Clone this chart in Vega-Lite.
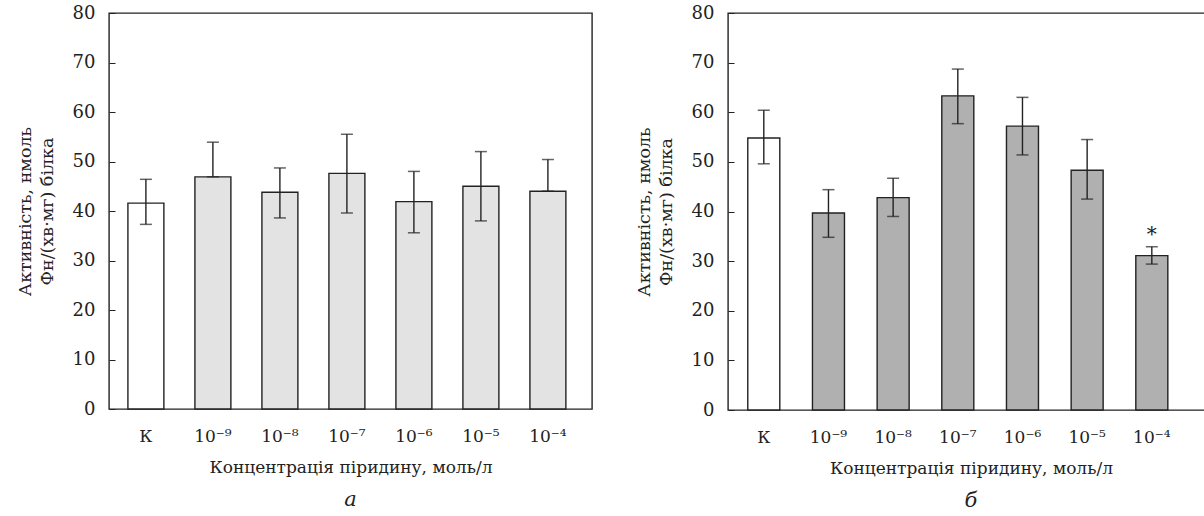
{
  "$schema": "https://vega.github.io/schema/vega-lite/v6.json",
  "background": "white",
  "padding": {"left": 15, "top": 3, "right": 0, "bottom": 0},
  "spacing": 41,
  "datasets": {
    "a": [
      {"conc": "К", "mean": 41.6, "lo": 37.3, "hi": 46.4, "note": ""},
      {"conc": "10⁻⁹", "mean": 46.9, "lo": 46.9, "hi": 53.9, "note": ""},
      {"conc": "10⁻⁸", "mean": 43.8, "lo": 38.6, "hi": 48.7, "note": ""},
      {"conc": "10⁻⁷", "mean": 47.6, "lo": 39.6, "hi": 55.5, "note": ""},
      {"conc": "10⁻⁶", "mean": 41.9, "lo": 35.6, "hi": 48.0, "note": ""},
      {"conc": "10⁻⁵", "mean": 45.0, "lo": 38.0, "hi": 52.0, "note": ""},
      {"conc": "10⁻⁴", "mean": 44.0, "lo": 44.0, "hi": 50.4, "note": ""}
    ],
    "b": [
      {"conc": "К", "mean": 54.8, "lo": 49.6, "hi": 60.4, "note": ""},
      {"conc": "10⁻⁹", "mean": 39.7, "lo": 34.8, "hi": 44.4, "note": ""},
      {"conc": "10⁻⁸", "mean": 42.8, "lo": 39.0, "hi": 46.7, "note": ""},
      {"conc": "10⁻⁷", "mean": 63.3, "lo": 57.7, "hi": 68.7, "note": ""},
      {"conc": "10⁻⁶", "mean": 57.2, "lo": 51.4, "hi": 63.0, "note": ""},
      {"conc": "10⁻⁵", "mean": 48.3, "lo": 42.5, "hi": 54.5, "note": ""},
      {"conc": "10⁻⁴", "mean": 31.1, "lo": 29.4, "hi": 32.9, "note": "*"}
    ]
  },
  "config": {
    "font": "DejaVu Serif",
    "view": {"stroke": "#222", "strokeWidth": 1.4},
    "axis": {
      "domain": false,
      "grid": false,
      "labelFont": "DejaVu Serif",
      "titleFont": "DejaVu Serif",
      "labelColor": "#222",
      "titleColor": "#222",
      "titleFontWeight": "normal",
      "tickColor": "#222"
    },
    "text": {"font": "DejaVu Serif"},
    "title": {"font": "DejaVu Serif", "fontStyle": "italic", "fontWeight": "normal", "fontSize": 21, "color": "#222", "orient": "bottom", "offset": 14}
  },
  "hconcat": [
    {
      "width": 483,
      "height": 396,
      "title": {"text": "а"},
      "data": {"name": "a"},
      "encoding": {
        "x": {
          "field": "conc", "type": "nominal",
          "sort": ["К", "10⁻⁹", "10⁻⁸", "10⁻⁷", "10⁻⁶", "10⁻⁵", "10⁻⁴"],
          "scale": {"paddingInner": 0.463, "paddingOuter": 0.336, "align": 0.42},
          "axis": {"title": "Концентрація піридину, моль/л", "labelAngle": 0, "ticks": false, "labelPadding": 19, "labelFontSize": 17, "titleFontSize": 17, "titlePadding": 15}
        }
      },
      "layer": [
        {
          "mark": {"type": "bar", "stroke": "#222", "strokeWidth": 1.4},
          "encoding": {
            "y": {"field": "mean", "type": "quantitative", "scale": {"domain": [0, 80]},
              "axis": {"values": [0, 10, 20, 30, 40, 50, 60, 70, 80], "tickSize": -6, "labelPadding": 20, "labelFontSize": 18, "titleFontSize": 17.5, "titlePadding": 16, "titleLineHeight": 22,
                "title": ["Активність, нмоль", "Фн/(хв·мг) білка"]}},
            "fill": {"condition": {"test": "datum.conc === 'К'", "value": "white"}, "value": "#e3e3e3"}
          }
        },
        {
          "mark": {"type": "rule", "color": "#222", "strokeWidth": 1.4},
          "encoding": {"y": {"field": "lo", "type": "quantitative"}, "y2": {"field": "hi"}}
        },
        {
          "mark": {"type": "tick", "color": "#222", "size": 12, "thickness": 1.5},
          "encoding": {"y": {"field": "hi", "type": "quantitative"}}
        },
        {
          "mark": {"type": "tick", "color": "#222", "size": 12, "thickness": 1.5},
          "encoding": {"y": {"field": "lo", "type": "quantitative"}}
        }
      ]
    },
    {
      "width": 486,
      "height": 397,
      "title": {"text": "б"},
      "data": {"name": "b"},
      "encoding": {
        "x": {
          "field": "conc", "type": "nominal",
          "sort": ["К", "10⁻⁹", "10⁻⁸", "10⁻⁷", "10⁻⁶", "10⁻⁵", "10⁻⁴"],
          "scale": {"paddingInner": 0.505, "paddingOuter": 0.51, "align": 0.3},
          "axis": {"title": "Концентрація піридину, моль/л", "labelAngle": 0, "ticks": false, "labelPadding": 19, "labelFontSize": 17, "titleFontSize": 17, "titlePadding": 15}
        }
      },
      "layer": [
        {
          "mark": {"type": "bar", "stroke": "#222", "strokeWidth": 1.4},
          "encoding": {
            "y": {"field": "mean", "type": "quantitative", "scale": {"domain": [0, 80]},
              "axis": {"values": [0, 10, 20, 30, 40, 50, 60, 70, 80], "tickSize": -6, "labelPadding": 20, "labelFontSize": 18, "titleFontSize": 17.5, "titlePadding": 16, "titleLineHeight": 22,
                "title": ["Активність, нмоль", "Фн/(хв·мг) білка"]}},
            "fill": {"condition": {"test": "datum.conc === 'К'", "value": "white"}, "value": "#b0b0b0"}
          }
        },
        {
          "mark": {"type": "rule", "color": "#222", "strokeWidth": 1.4},
          "encoding": {"y": {"field": "lo", "type": "quantitative"}, "y2": {"field": "hi"}}
        },
        {
          "mark": {"type": "tick", "color": "#222", "size": 12, "thickness": 1.5},
          "encoding": {"y": {"field": "hi", "type": "quantitative"}}
        },
        {
          "mark": {"type": "tick", "color": "#222", "size": 12, "thickness": 1.5},
          "encoding": {"y": {"field": "lo", "type": "quantitative"}}
        },
        {
          "mark": {"type": "text", "fontSize": 20, "dy": -2, "color": "#222", "baseline": "bottom"},
          "encoding": {"y": {"field": "hi", "type": "quantitative"}, "text": {"field": "note"}}
        }
      ]
    }
  ]
}
